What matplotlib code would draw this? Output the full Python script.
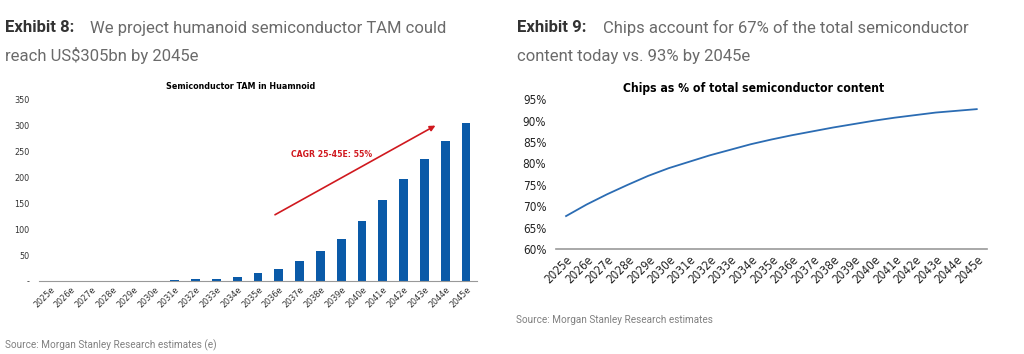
import matplotlib
matplotlib.use('Agg')
import matplotlib.pyplot as plt
from matplotlib.ticker import FuncFormatter

years = [f'{y}e' for y in range(2025, 2046)]
tam = [0.05, 0.1, 0.2, 0.3, 0.5, 0.8, 1.5, 3, 4.5, 7.7, 14.8, 23.7, 38.5, 58, 80,
       116, 155.5, 196.5, 234.5, 270, 305]
chip_share = [0.677, 0.704, 0.728, 0.750, 0.771, 0.789, 0.804, 0.819, 0.832, 0.845,
              0.856, 0.866, 0.875, 0.884, 0.892, 0.900, 0.907, 0.913, 0.919, 0.923, 0.927]
cagr_label = 'CAGR 25-45E: 55%'

body = 'Roboto'
narrow = dict(fontfamily='DejaVu Sans', fontstretch='condensed')

fig = plt.figure(figsize=(10.24, 3.54), dpi=100)

# headings
head = dict(fontfamily=body, fontsize=12, va='center')
fig.text(5/1024, 1-28/354, 'Exhibit 8:', fontweight='bold', color='#333333', **head)
fig.text(90/1024, 1-28/354, 'We project humanoid semiconductor TAM could',
         color='#6a6a6a', **head)
fig.text(5/1024, 1-56/354, 'reach US$305bn by 2045e', color='#6a6a6a', **head)
fig.text(517/1024, 1-28/354, 'Exhibit 9:', fontweight='bold', color='#333333', **head)
fig.text(603/1024, 1-28/354, 'Chips account for 67% of the total semiconductor',
         color='#6a6a6a', **head)
fig.text(517/1024, 1-56/354, 'content today vs. 93% by 2045e', color='#6a6a6a', **head)

fig.text(5/1024, 1-345/354, 'Source: Morgan Stanley Research estimates (e)',
         fontfamily=body, fontsize=7.2, color='#808080', va='center')
fig.text(516/1024, 1-320/354, 'Source: Morgan Stanley Research estimates',
         fontfamily=body, fontsize=7.2, color='#808080', va='center')

# left: bar chart
ax1 = fig.add_axes([39/1024, 1-281/354, (477-39)/1024, (281-99.3)/354])
x = range(len(years))
ax1.bar(x, tam, width=0.42, color='#0a5aa8')
ax1.set_ylim(0, 350)
ax1.set_xlim(-0.53, 20.53)
ax1.set_yticks(range(0, 351, 50))
ax1.yaxis.set_major_formatter(FuncFormatter(lambda v, p: '-' if v == 0 else f'{int(v)}'))
ax1.set_xticks(list(x))
ax1.set_xticklabels(years, rotation=45, ha='right', rotation_mode='anchor')
for s in ['top', 'right', 'left']:
    ax1.spines[s].set_visible(False)
ax1.spines['bottom'].set_color('#999999')
ax1.tick_params(length=0, labelsize=6.5, colors='#333333')
ax1.tick_params(axis='y', pad=7)
ax1.tick_params(axis='x', pad=3)
for lab in ax1.get_xticklabels() + ax1.get_yticklabels():
    lab.set_fontfamily(narrow['fontfamily'])
    lab.set_fontstretch(narrow['fontstretch'])
ax1.text(0.461, 1.07, 'Semiconductor TAM in Huamnoid', transform=ax1.transAxes,
         fontweight='bold', fontsize=6.4, ha='center', va='center', **narrow)
ax1.annotate('', xy=(18.65, 302), xytext=(10.7, 125),
             arrowprops=dict(arrowstyle='-|>', color='#d0191f', lw=1.2,
                             mutation_scale=8))
ax1.text(13.55, 243, cagr_label, color='#d0191f', fontweight='bold',
         fontsize=6.2, ha='center', va='center', **narrow)

# right: line chart
ax2 = fig.add_axes([556/1024, 1-249/354, (987-556)/1024, (249-99.3)/354])
ax2.plot(list(x), chip_share, color='#2b6cb3', lw=1.3)
ax2.set_ylim(0.60, 0.95)
ax2.set_xlim(-0.49, 20.5)
ax2.set_yticks([0.60, 0.65, 0.70, 0.75, 0.80, 0.85, 0.90, 0.95])
ax2.yaxis.set_major_formatter(FuncFormatter(lambda v, p: f'{v*100:.0f}%'))
ax2.set_xticks(list(x))
ax2.set_xticklabels(years, rotation=45, ha='right', rotation_mode='anchor')
for s in ['top', 'right', 'left']:
    ax2.spines[s].set_visible(False)
ax2.spines['bottom'].set_color('#999999')
ax2.spines['bottom'].set_linewidth(1.2)
ax2.tick_params(length=0, labelsize=8.5, colors='#222222')
ax2.tick_params(axis='y', pad=7)
ax2.tick_params(axis='x', pad=3)
for lab in ax2.get_xticklabels() + ax2.get_yticklabels():
    lab.set_fontfamily(narrow['fontfamily'])
    lab.set_fontstretch(narrow['fontstretch'])
ax2.text(0.459, 1.075, 'Chips as % of total semiconductor content',
         transform=ax2.transAxes, fontweight='bold', fontsize=8.7,
         ha='center', va='center', **narrow)

fig.savefig('out.png', dpi=100)
